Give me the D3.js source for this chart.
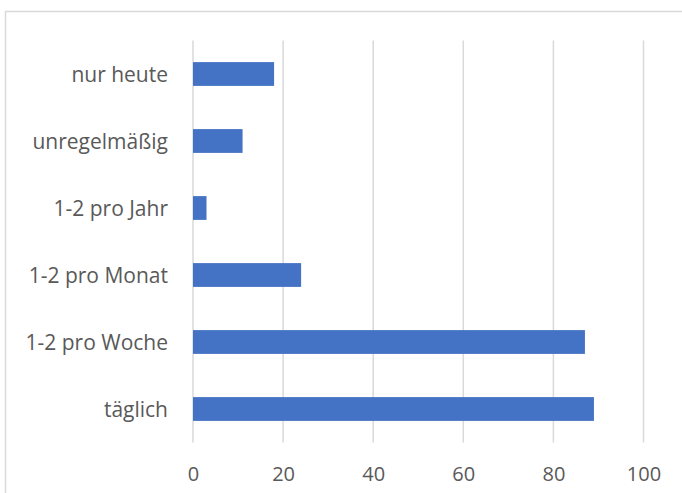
<!DOCTYPE html>
<html>
<head>
<meta charset="utf-8">
<script src="https://cdn.jsdelivr.net/npm/d3@7"></script>
<style>
  html, body { margin: 0; padding: 0; background: #fff; }
  svg { display: block; }
</style>
</head>
<body>
<svg id="chart" width="682" height="493"></svg>
<script>
// Category labels, top to bottom
const categories = ["nur heute", "unregelmäßig", "1-2 pro Jahr", "1-2 pro Monat", "1-2 pro Woche", "täglich"];
// Counts per category
const values = [18, 11, 3, 24, 87, 89];
// Axis ticks
const xTicks = [0, 20, 40, 60, 80, 100];

const svg = d3.select("#chart");
const W = 682, H = 493;
const margin = { top: 40.5, right: 38.5, bottom: 50.5, left: 193 };
const font = "'Open Sans', 'Liberation Sans', sans-serif";
const textColor = "#595959";

// Chart frame
svg.append("rect")
  .attr("x", 5.5).attr("y", 11.5)
  .attr("width", W + 10).attr("height", H + 10)
  .attr("fill", "#fff")
  .attr("stroke", "#d9d9d9").attr("stroke-width", 1.5);

const x = d3.scaleLinear().domain([0, 100]).range([margin.left, 643.5]);
const y = d3.scaleBand().domain(categories)
  .range([margin.top, H - margin.bottom])
  .paddingInner(0.645).paddingOuter(0.3225);

// Vertical gridlines
svg.append("g")
  .selectAll("line").data(xTicks).join("line")
  .attr("x1", d => x(d)).attr("x2", d => x(d))
  .attr("y1", margin.top).attr("y2", H - margin.bottom)
  .attr("stroke", "#d9d9d9").attr("stroke-width", 1.5);

// Bars
svg.append("g")
  .selectAll("rect").data(categories).join("rect")
  .attr("x", x(0))
  .attr("y", d => y(d))
  .attr("width", (d, i) => x(values[i]) - x(0))
  .attr("height", y.bandwidth())
  .attr("fill", "#4472c4");

// Category axis
const yAxis = svg.append("g")
  .attr("transform", `translate(${x(0)},0)`)
  .call(d3.axisLeft(y).tickSize(0).tickPadding(25));
yAxis.select(".domain").remove();
yAxis.selectAll("text")
  .attr("font-family", font).attr("font-size", 21)
  .attr("dy", "0.36em")
  .attr("fill", textColor);

// Value axis
const xAxis = svg.append("g")
  .attr("transform", `translate(0,${H - margin.bottom})`)
  .call(d3.axisBottom(x).tickValues(xTicks).tickSize(0).tickPadding(24));
xAxis.select(".domain").remove();
xAxis.selectAll("text")
  .attr("font-family", font).attr("font-size", 20)
  .attr("fill", textColor);
</script>
</body>
</html>
